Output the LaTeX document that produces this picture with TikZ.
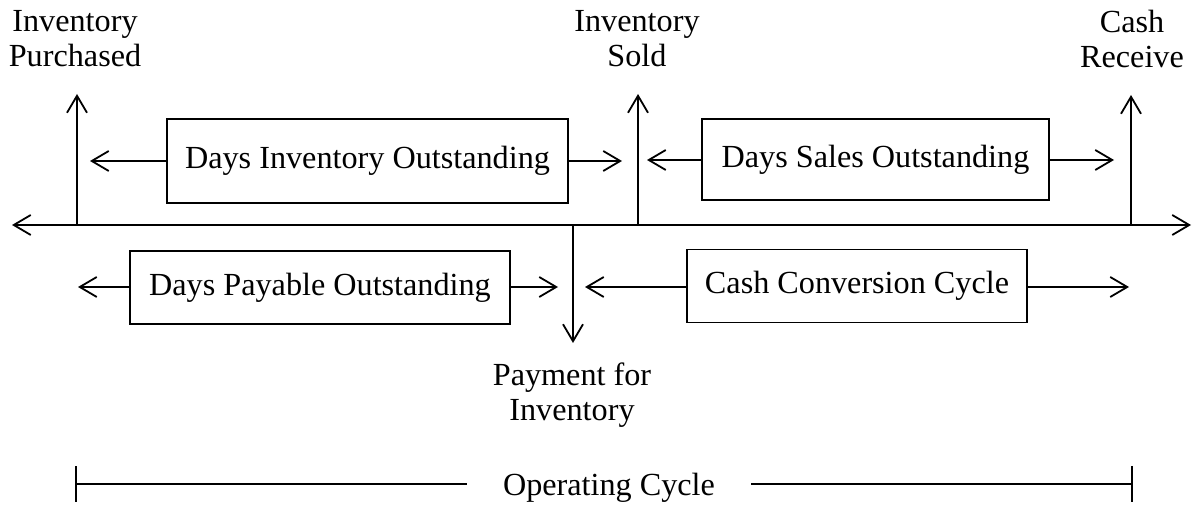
\documentclass[tikz,border=0pt]{standalone}
\usepackage{fontspec}
\setmainfont{Liberation Serif}
\usepackage{tikz}
\usetikzlibrary{arrows.meta,calc,positioning}

\begin{document}
\begin{tikzpicture}[
  x=0.5pt,y=-0.5pt,
  line width=0.9pt,
  >={Straight Barb[length=8.5pt,width=10pt]},
  every node/.style={font=\fontsize{16.1}{17.5}\selectfont},
  box/.style={draw,line width=0.9pt,inner sep=0pt},
  lbl/.style={align=center,inner sep=0pt}
  ]
  \useasboundingbox (0,0) rectangle (1192,506);
  % time line
  \coordinate (axL) at (12,225);
  \coordinate (axR) at (1191,225);
  \draw [<->] (axL) -- (axR);
  % events: p-purchased s-sold c-cash y-payment
  \coordinate (p0) at (77,225);   \coordinate (p1) at (77,94);
  \coordinate (s0) at (638,225);  \coordinate (s1) at (638,94);
  \coordinate (c0) at (1131,225); \coordinate (c1) at (1131,95);
  \coordinate (y0) at (573,225);  \coordinate (y1) at (573,343);
  \draw [->] (p0) -- (p1);
  \draw [->] (s0) -- (s1);
  \draw [->] (c0) -- (c1);
  \draw [->] (y0) -- (y1);
  \node [lbl,anchor=base] (lp) at (75,67) {Inventory\\Purchased};
  \node [lbl,anchor=base] (ls) at (637,67) {Inventory\\Sold};
  \node [lbl,anchor=base] (lc) at (1132,68) {Cash\\Receive};
  \node [lbl,anchor=base] (ly) at (572,421) {Payment for\\Inventory};
  % periods
  \node [box,minimum width=200.5pt,minimum height=42pt] (dio) at (367.5,161) {Days Inventory Outstanding};
  \node [box,minimum width=173.5pt,minimum height=40.5pt] (dso) at (875.5,159.5) {Days Sales Outstanding};
  \node [box,minimum width=190pt,minimum height=36.5pt] (dpo) at (320,287.5) {Days Payable Outstanding};
  \node [box,minimum width=170pt,minimum height=36.5pt] (ccc) at (857,286) {Cash Conversion Cycle};
  \coordinate (dioL) at (90,161);   \coordinate (dioR) at (622,161);
  \coordinate (dsoL) at (647,160);  \coordinate (dsoR) at (1114,160);
  \coordinate (dpoL) at (78,287);   \coordinate (dpoR) at (558,287);
  \coordinate (cccL) at (585,287);  \coordinate (cccR) at (1129,287);
  \draw [->] (dio.west |- dioL) -- (dioL);
  \draw [->] (dio.east |- dioR) -- (dioR);
  \draw [->] (dso.west |- dsoL) -- (dsoL);
  \draw [->] (dso.east |- dsoR) -- (dsoR);
  \draw [->] (dpo.west |- dpoL) -- (dpoL);
  \draw [->] (dpo.east |- dpoR) -- (dpoR);
  \draw [->] (ccc.west |- cccL) -- (cccL);
  \draw [->] (ccc.east |- cccR) -- (cccR);
  % operating cycle
  \node [lbl,anchor=base,inner xsep=17.5pt] (op) at (609,495) {Operating Cycle};
  \coordinate (opL) at (75,484);
  \coordinate (opR) at (1133,484);
  \draw [{Bar[width=18pt]}-] (opL) -- (opL -| op.west);
  \draw [{Bar[width=18pt]}-] (opR) -- (opR -| op.east);
\end{tikzpicture}
\end{document}
